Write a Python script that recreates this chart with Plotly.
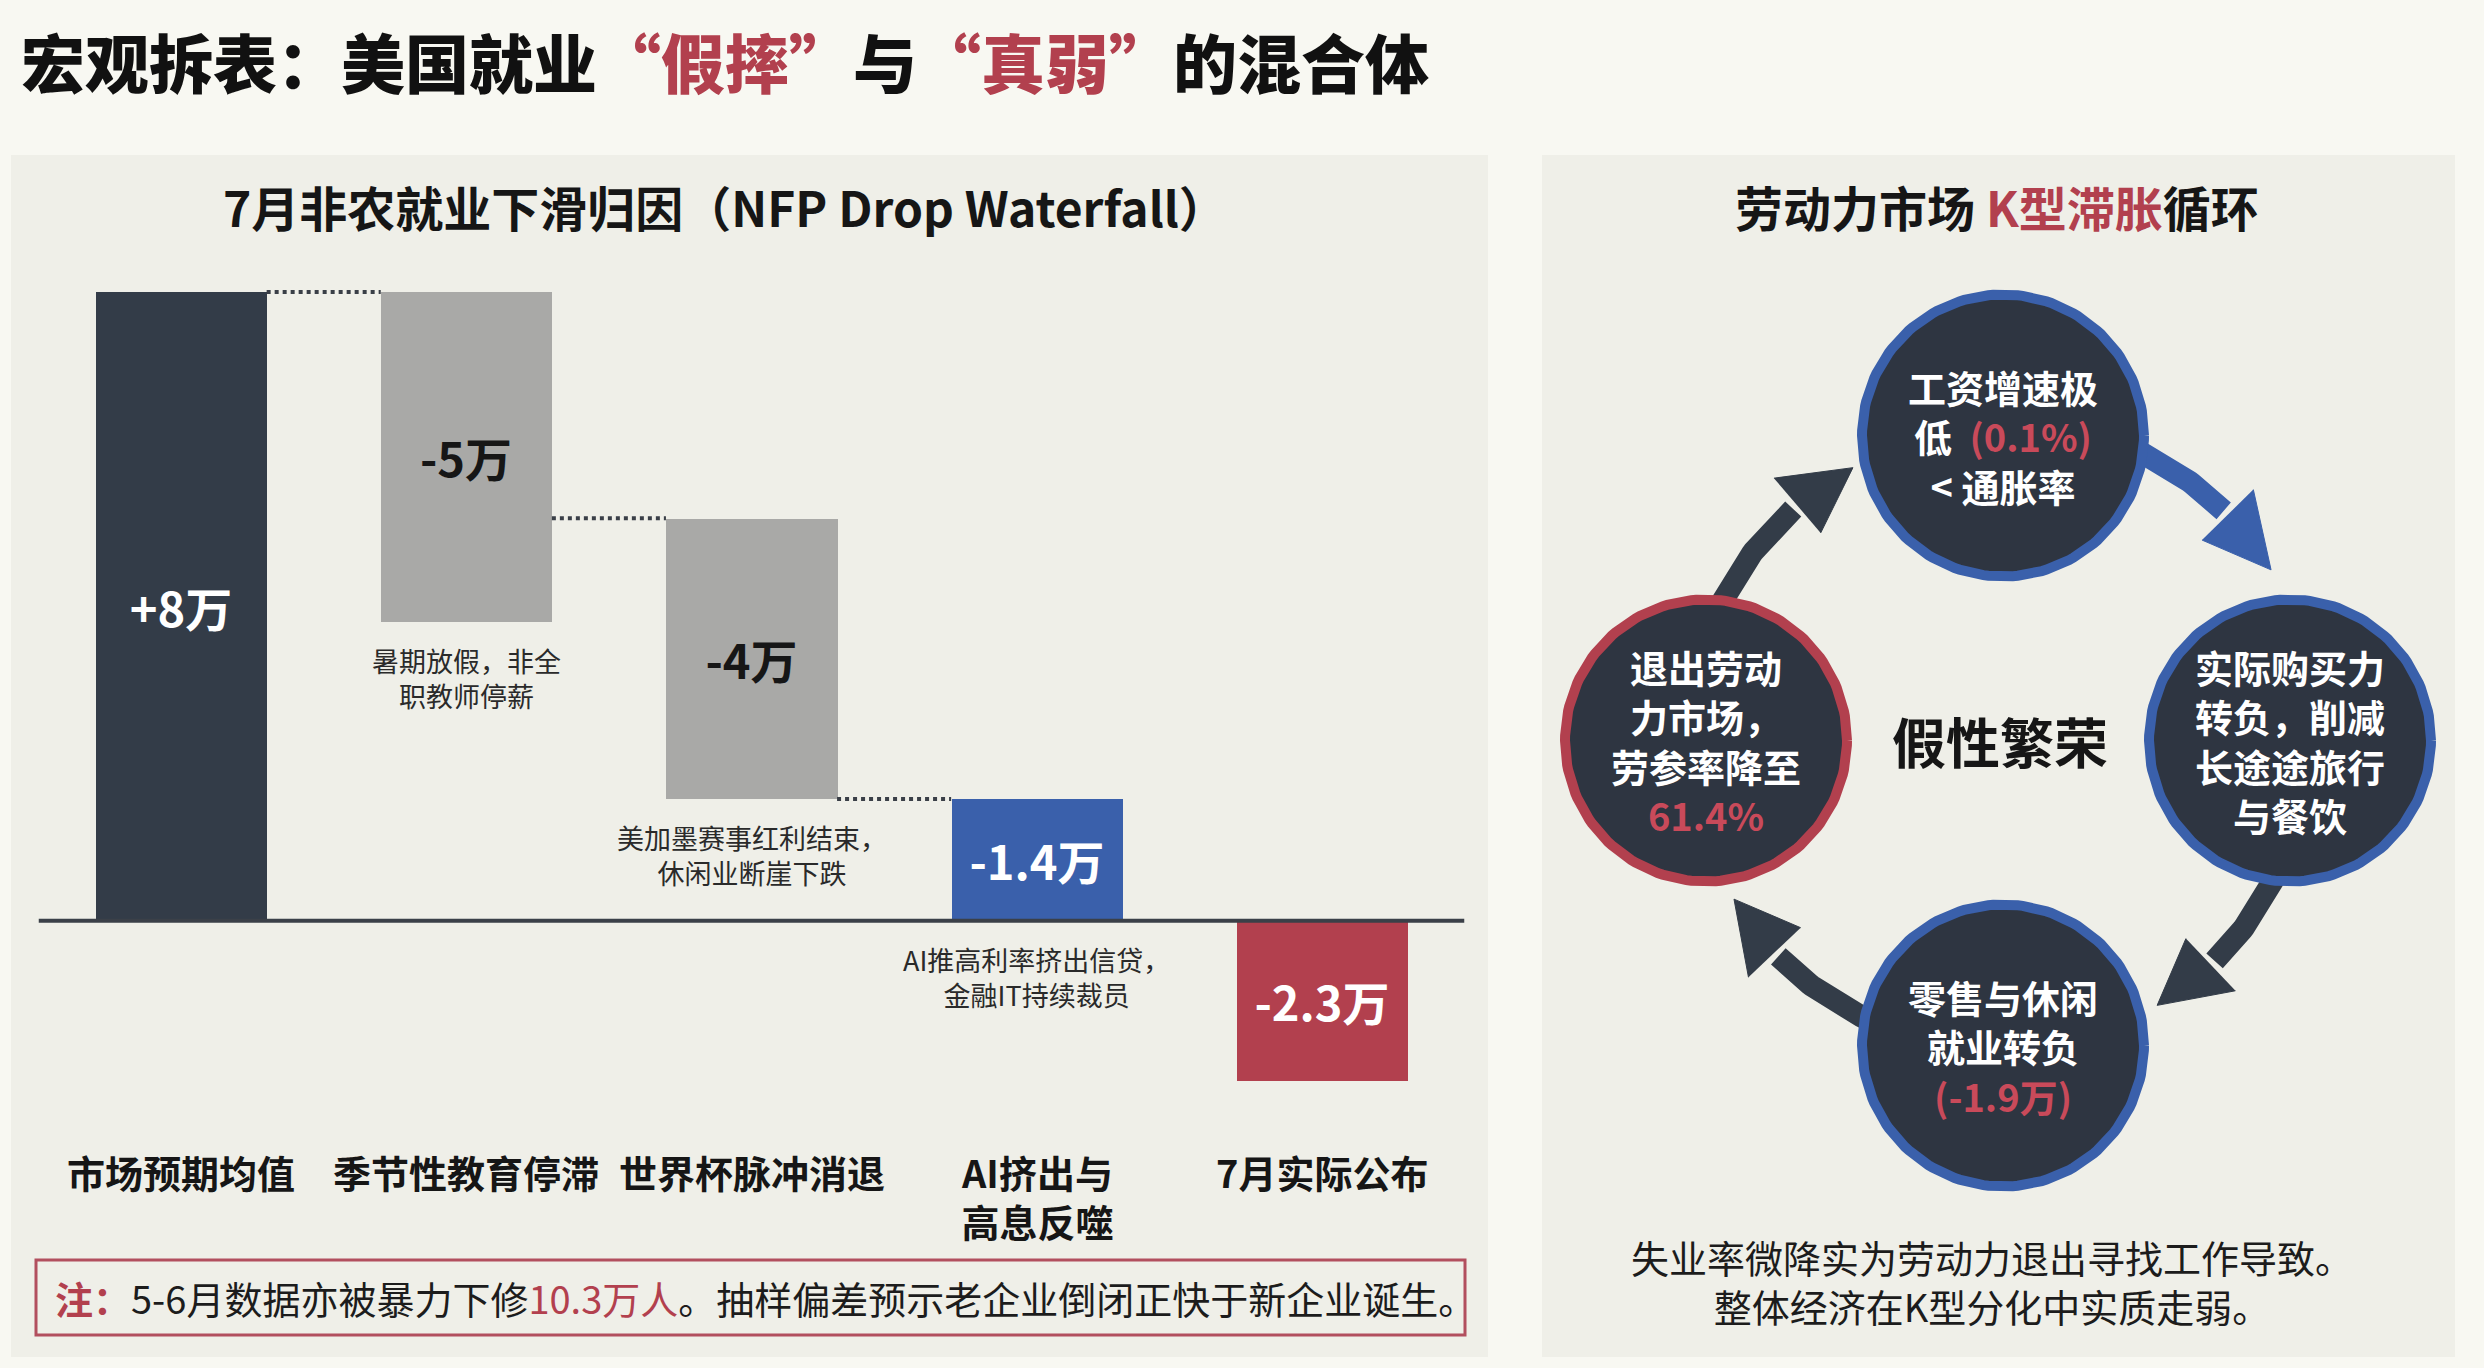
import numpy as np
import plotly.graph_objects as go

W, H = 2484, 1368
FONT = "Noto Sans CJK SC"
RED = "#b2404e"
RED_TXT = "#c94a5a"
DARK = "#333c48"
BLUE = "#3a60ab"
GREY = "#a9a9a7"
INK = "#161616"

# 左图：7月非农下滑瀑布（单位：万人），柱体起止按原图读取
categories = ["市场预期均值", "季节性教育停滞", "世界杯脉冲消退", "AI挤出与<br>高息反噬", "7月实际公布"]
bar_top = [8.0, 8.0, 5.12, 1.55, 0.0]
bar_bottom = [0.0, 3.8, 1.55, 0.0, -2.03]
bar_labels = ["+8万", "-5万", "-4万", "-1.4万", "-2.3万"]
bar_colors = [DARK, GREY, GREY, BLUE, RED]
bar_text_colors = ["white", INK, INK, "white", "white"]
bar_notes = ["", "暑期放假，非全<br>职教师停薪", "美加墨赛事红利结束，<br>休闲业断崖下跌",
             "AI推高利率挤出信贷，<br>金融IT持续裁员", ""]

# 右图：K型滞胀循环
node_angles = [90, 0, -90, 180]
node_text = [
    "工资增速极<br>低  <span style='color:%s'>(0.1%%)</span><br>< 通胀率" % RED_TXT,
    "实际购买力<br>转负，削减<br>长途途旅行<br>与餐饮",
    "零售与休闲<br>就业转负<br><span style='color:%s'>(-1.9万)</span>" % RED_TXT,
    "退出劳动<br>力市场，<br>劳参率降至<br><span style='color:%s'>61.4%%</span>" % RED_TXT,
]
node_border = [BLUE, BLUE, BLUE, RED]
arrow_start = [165, 75, -15, -105]
arrow_tip = [118, 32, -59, -149]
arrow_radius = [309, 322, 309, 308]
arrow_colors = [DARK, BLUE, DARK, DARK]


def py(p):
    # 像素行 -> paper y
    return 1 - p / H


def px(p):
    return p / W


def note(x, y, text, size, color=INK, weight=400, xanchor="center", yanchor="middle", **kw):
    fig.add_annotation(x=x, y=y, text=text, showarrow=False, xanchor=xanchor, yanchor=yanchor,
                       font=dict(family=FONT, size=size, color=color, weight=weight), **kw)


fig = go.Figure()

# ---------- 瀑布图 ----------
base_px, top_px = 920.7, 292.0
unit = (base_px - top_px) / 8.0
y_lo, y_hi = -3.0, 8.5
ydom = [py(base_px - y_lo * unit), py(base_px - y_hi * unit)]
xs = list(range(len(categories)))

fig.add_trace(go.Bar(
    x=xs,
    y=[t - b for t, b in zip(bar_top, bar_bottom)],
    base=bar_bottom,
    width=0.6,
    marker=dict(color=bar_colors, line=dict(width=0)),
    text=bar_labels,
    textposition="inside",
    insidetextanchor="middle",
    textangle=0,
    constraintext="none",
    textfont=dict(family=FONT, size=47, color=bar_text_colors, weight=700),
    hoverinfo="skip",
    cliponaxis=False,
))

# 虚线连接
for i in range(len(xs) - 2):
    lvl = bar_top[i + 1]
    fig.add_trace(go.Scatter(
        x=[xs[i] + 0.3, xs[i + 1] - 0.3], y=[lvl, lvl], mode="lines",
        line=dict(color="#3a3f47", width=4, dash="dot"), hoverinfo="skip",
    ))

fig.add_shape(type="line", xref="x", yref="y", x0=-0.5, x1=4.5, y0=0, y1=0,
              line=dict(color="#3b4048", width=4), layer="above")

for i, t in enumerate(bar_notes):
    if t:
        note(xs[i], bar_bottom[i], t, 27, color="#2a2a2a", yanchor="top",
             xref="x", yref="y", yshift=-17)

for i, c in enumerate(categories):
    note(xs[i], py(1142), c, 38, weight=700, yanchor="top", xref="x", yref="paper")

# ---------- 循环图 ----------
cx_px, cy_px = 1998.0, 740.5
rx, ry = 292, 305
circ_r = 141

for a0, a1, R, col in zip(arrow_start, arrow_tip, arrow_radius, arrow_colors):
    ab = a1 + 12.5
    t = np.radians(np.linspace(a0, ab + 1, 60))
    fig.add_trace(go.Scatter(
        x=R * np.cos(t), y=R * np.sin(t), mode="lines", xaxis="x2", yaxis="y2",
        line=dict(color=col, width=22), hoverinfo="skip",
    ))
    tb, tt = np.radians(ab), np.radians(a1)
    hx = [(R - 36) * np.cos(tb), R * np.cos(tt), (R + 36) * np.cos(tb)]
    hy = [(R - 36) * np.sin(tb), R * np.sin(tt), (R + 36) * np.sin(tb)]
    fig.add_trace(go.Scatter(
        x=hx, y=hy, mode="lines", fill="toself", fillcolor=col, xaxis="x2", yaxis="y2",
        line=dict(color=col, width=1), hoverinfo="skip",
    ))

th = np.linspace(0, 2 * np.pi, 181)
for ang, txt, bc in zip(node_angles, node_text, node_border):
    ncx = rx * np.cos(np.radians(ang)) + (5 if ang in (90, -90) else 0)
    ncy = ry * np.sin(np.radians(ang))
    fig.add_trace(go.Scatter(
        x=ncx + circ_r * np.cos(th), y=ncy + circ_r * np.sin(th), mode="lines",
        fill="toself", fillcolor="#2e3541", line=dict(color=bc, width=10),
        xaxis="x2", yaxis="y2", hoverinfo="skip",
    ))
    note(ncx, ncy, txt, 38, color="white", weight=700, xref="x2", yref="y2", align="center")

note(2, 0, "假性繁荣", 54, weight=700, xref="x2", yref="y2")

# ---------- 面板与文字 ----------
for x0, x1 in [(11, 1488), (1542, 2455)]:
    fig.add_shape(type="rect", xref="paper", yref="paper", x0=px(x0), x1=px(x1),
                  y0=py(1357), y1=py(155), fillcolor="#efefe8", line=dict(width=0), layer="below")

fig.add_shape(type="rect", xref="paper", yref="paper", x0=px(36), x1=px(1465),
              y0=py(1335), y1=py(1260), line=dict(color="#b24f5e", width=3), layer="above")

note(px(19), py(60),
     "宏观拆表：美国就业<span style='color:%s'>“假摔”</span>与<span style='color:%s'>“真弱”</span>的混合体" % (RED, RED),
     64, color="#111111", weight=900, xanchor="left", xref="paper", yref="paper")
note(px(725), py(206), "7月非农就业下滑归因（NFP Drop Waterfall）", 48, weight=700,
     xref="paper", yref="paper")
note(px(1997), py(206), "劳动力市场 <span style='color:%s'>K型滞胀</span>循环" % RED, 48, weight=700,
     xref="paper", yref="paper")
note(px(53), py(1297),
     "<b><span style='color:%s'>注：</span></b>5-6月数据亦被暴力下修<span style='color:%s'>10.3万人</span>。抽样偏差预示老企业倒闭正快于新企业诞生。" % (RED, RED),
     38, color="#1c1c1c", xanchor="left", xref="paper", yref="paper")
note(px(1992), py(1281), "失业率微降实为劳动力退出寻找工作导致。<br>整体经济在K型分化中实质走弱。",
     38, color="#1c1c1c", xref="paper", yref="paper")

fig.update_layout(
    width=W, height=H,
    margin=dict(l=0, r=0, t=0, b=0),
    paper_bgcolor="#f8f8f2",
    plot_bgcolor="rgba(0,0,0,0)",
    showlegend=False,
    bargap=0,
    xaxis=dict(domain=[px(38.5), px(1464.5)], range=[-0.5, 4.5], visible=False, fixedrange=True),
    yaxis=dict(domain=ydom, range=[y_lo, y_hi], visible=False, fixedrange=True),
    xaxis2=dict(domain=[px(1542), px(2455)], range=[1542 - cx_px, 2455 - cx_px],
                visible=False, anchor="y2"),
    yaxis2=dict(domain=[py(1357), py(155)], range=[-(1357 - cy_px), cy_px - 155],
                visible=False, anchor="x2"),
)

fig.write_html("out.html", config={"displayModeBar": False},
               post_script="document.body.style.margin='0px';")
